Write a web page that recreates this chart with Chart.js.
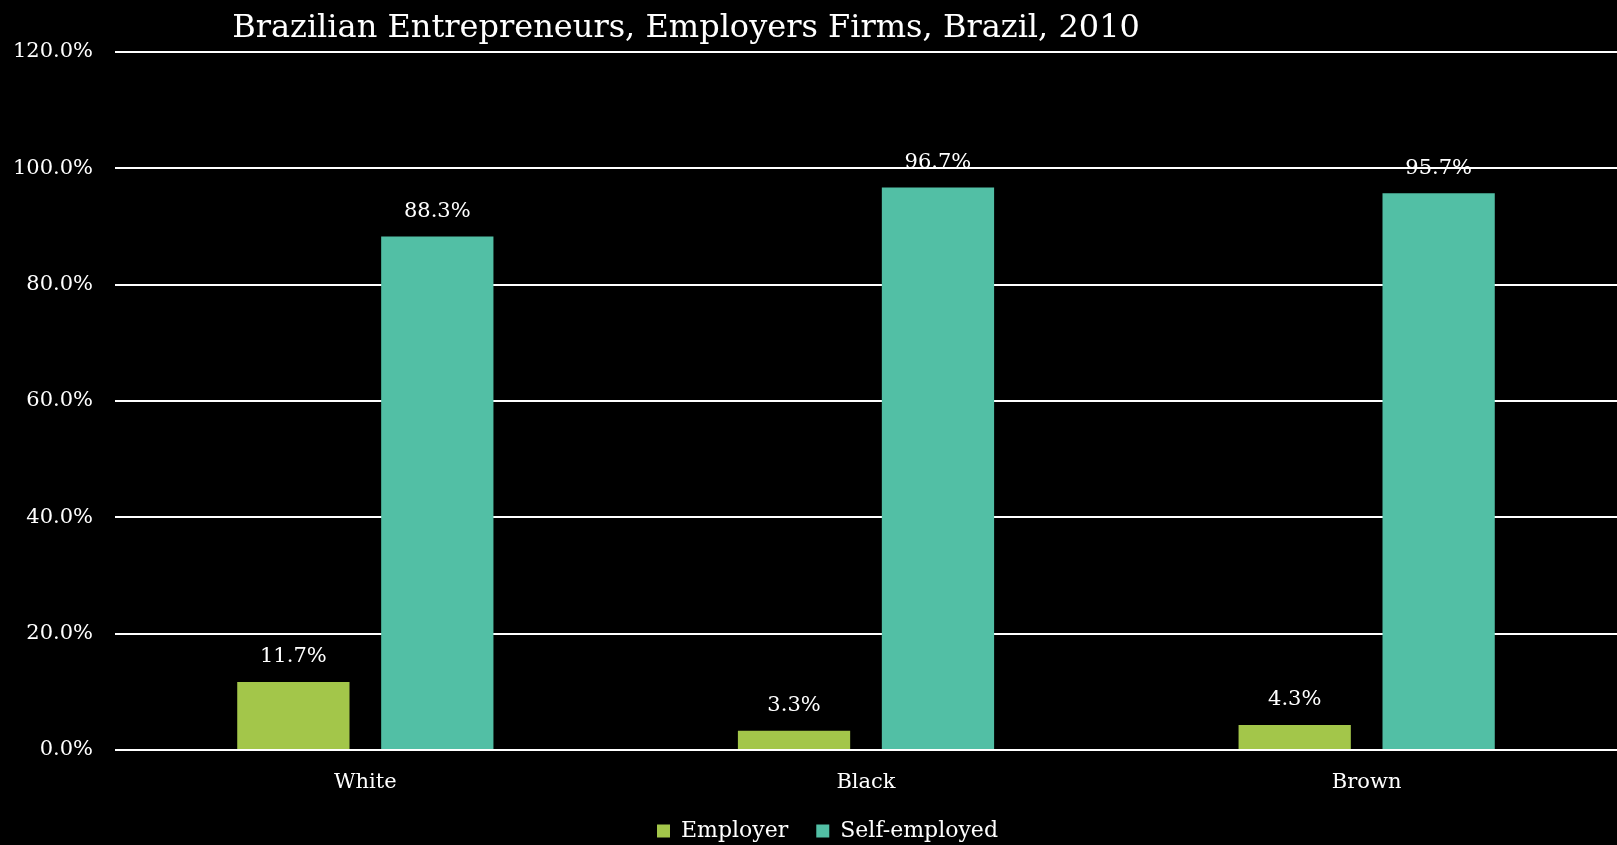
<!DOCTYPE html>
<html>
<head>
<meta charset="utf-8">
<script src="https://cdn.jsdelivr.net/npm/chart.js@4.4.0/dist/chart.umd.min.js"></script>
<style>
  html, body { margin: 0; padding: 0; background: #000; }
  #wrap { width: 1617px; height: 845px; }
</style>
</head>
<body>
<div id="wrap"><canvas id="grafico" width="1617" height="845"></canvas></div>
<script>
// dados do gráfico
const titulo = 'Brazilian Entrepreneurs, Employers Firms, Brazil, 2010';
const categorias = ['White', 'Black', 'Brown'];
const employer = [11.7, 3.3, 4.3];
const selfEmployed = [88.3, 96.7, 95.7];
const ticksY = [0, 20, 40, 60, 80, 100, 120];

const fonte = "'DejaVu Serif', serif";

// desenha o título e os rótulos dos valores
const rotulosPlugin = {
    id: 'rotulos',
    afterLayout(chart) {
        // legenda um pouco à direita, como no original
        chart.legend.left += 19;
        chart.legend.right += 19;
    },
    afterDatasetsDraw(chart) {
        const ctx = chart.ctx;
        ctx.save();
        ctx.fillStyle = '#fff';
        ctx.font = '21px ' + fonte;
        ctx.textAlign = 'center';
        ctx.textBaseline = 'middle';
        chart.data.datasets.forEach((ds, i) => {
            chart.getDatasetMeta(i).data.forEach((bar, j) => {
                ctx.fillText(ds.data[j].toFixed(1) + '%', bar.x, bar.y - 25);
            });
        });
        ctx.font = '32px ' + fonte;
        ctx.textBaseline = 'alphabetic';
        ctx.fillText(titulo, 686, 37);
        ctx.restore();
    }
};

const ctx = document.getElementById('grafico').getContext('2d');
const grafico = new Chart(ctx, {
    type: 'bar',
    data: {
        labels: categorias,
        datasets: [{
            label: 'Employer',
            data: employer,
            backgroundColor: '#A3C64A',
            categoryPercentage: 0.575,
            barPercentage: 0.78
        }, {
            label: 'Self-employed',
            data: selfEmployed,
            backgroundColor: '#52BFA5',
            categoryPercentage: 0.575,
            barPercentage: 0.78
        }]
    },
    options: {
        responsive: false,
        devicePixelRatio: 1,
        animation: false,
        layout: { padding: { top: 52, right: 0, bottom: -7, left: 0 } },
        plugins: {
            title: { display: false },
            tooltip: { enabled: false },
            legend: {
                position: 'bottom',
                labels: {
                    color: '#fff',
                    font: { family: fonte, size: 22 },
                    boxWidth: 13,
                    boxHeight: 13,
                    padding: 28
                }
            }
        },
        scales: {
            x: {
                grid: { display: false },
                border: { display: false },
                ticks: { color: '#fff', font: { family: fonte, size: 21 }, padding: 12 },
                afterFit: (scale) => { scale.height = 42; }
            },
            y: {
                min: 0,
                max: 120,
                afterBuildTicks: (scale) => { scale.ticks = ticksY.map(v => ({ value: v })); },
                ticks: {
                    color: '#fff',
                    font: { family: fonte, size: 21 },
                    padding: 22,
                    callback: (v) => v.toFixed(1) + '%'
                },
                grid: { color: '#fff', lineWidth: 2, drawTicks: false },
                border: { display: false },
                afterFit: (scale) => { scale.width = 115; }
            }
        }
    },
    plugins: [rotulosPlugin]
});
</script>
</body>
</html>
